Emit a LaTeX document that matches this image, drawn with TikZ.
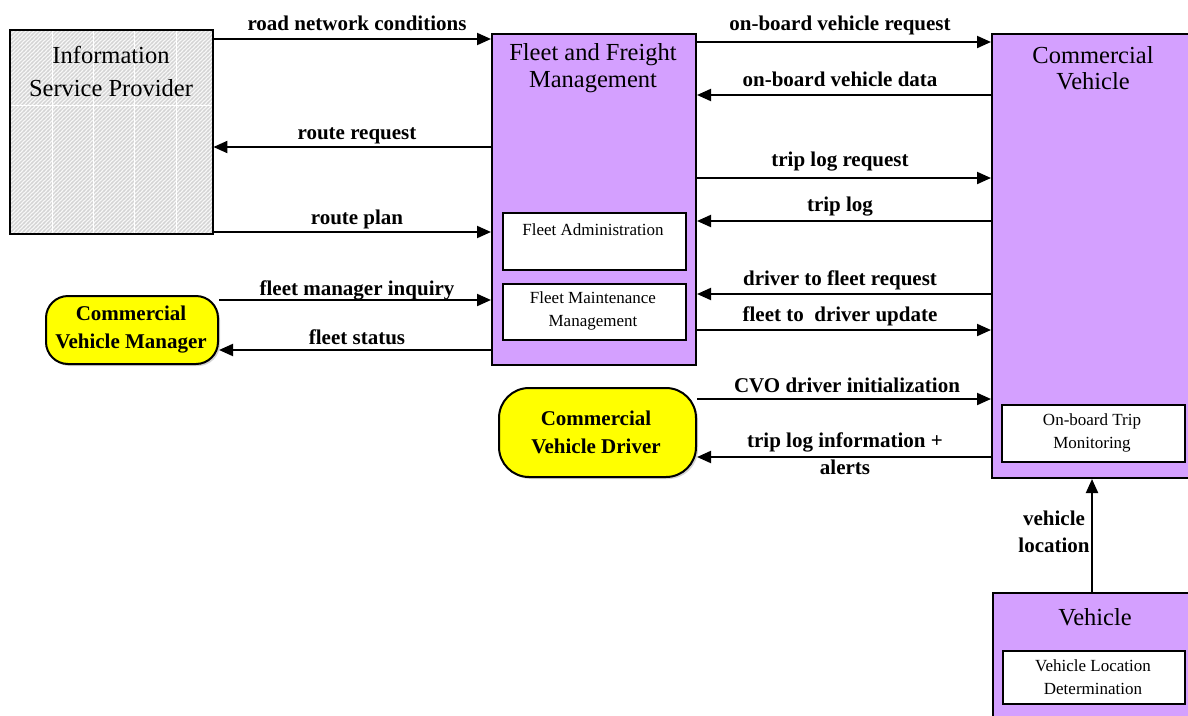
\documentclass[tikz,border=0pt]{standalone}
\usepackage{fontspec}
\setmainfont{Liberation Serif}
\usetikzlibrary{arrows.meta,patterns,shadows}
\definecolor{purp}{RGB}{212,160,255}
\definecolor{yel}{RGB}{255,255,0}
\definecolor{ispbg}{RGB}{248,248,248}
\definecolor{ispline}{RGB}{212,212,212}
\pgfdeclarepatternformonly{ispstripes}{\pgfqpoint{-1pt}{-1pt}}{\pgfqpoint{5pt}{5pt}}{\pgfqpoint{4pt}{4pt}}{%
  \pgfsetlinewidth{1.2pt}%
  \pgfpathmoveto{\pgfqpoint{-1pt}{-1pt}}%
  \pgfpathlineto{\pgfqpoint{5pt}{5pt}}%
  \pgfusepath{stroke}}
\tikzset{
  bigbox/.style={draw, line width=2pt, fill=purp, inner sep=0pt, anchor=north west},
  subbox/.style={draw, line width=1.5pt, fill=white, inner sep=0pt, anchor=north west},
  actor/.style={draw, line width=2pt, fill=yel, inner sep=0pt, anchor=north west,
    drop shadow={opacity=0.35, shadow xshift=2pt, shadow yshift=-2pt}},
  title/.style={font=\fontsize{24.5}{26.5}\selectfont, align=center, inner sep=0pt},
  subtext/.style={font=\fontsize{17}{23.5}\selectfont, align=center, inner sep=0pt},
  actortext/.style={font=\fontsize{21}{28}\selectfont\bfseries, align=center, inner sep=0pt},
  lab/.style={font=\fontsize{21}{27}\selectfont\bfseries, align=center, inner sep=0pt},
  arr/.style={line width=2pt, -{Triangle[length=14pt,width=12pt]}},
}
\begin{document}
\begin{tikzpicture}[x=1pt,y=-1pt]
\useasboundingbox (0,0) rectangle (1188,715);
% Information Service Provider
\node[fill=ispbg, inner sep=0pt, anchor=north west, minimum width=203, minimum height=204] (isp) at (10,30) {};
\fill[pattern=ispstripes, pattern color=ispline] ([xshift=1pt,yshift=-1pt]isp.north west) rectangle ([xshift=-1pt,yshift=1pt]isp.south east);
\foreach \xx in {52,93,134,176} \draw[white, line width=0.8pt] (\xx,31) -- (\xx,233);
\draw[white, line width=0.8pt] (11,105) -- (212,105);
\draw[line width=2pt] (isp.north west) rectangle (isp.south east);
\node[title, font=\fontsize{24.5}{33}\selectfont] (ispt) at (111,71) {Information\\Service Provider};
% Fleet and Freight Management
\node[bigbox, minimum width=204, minimum height=331] (ffm) at (491,33) {};
\node[title] (ffmt) at (593,68) {Fleet and Freight\\Management};
\node[subbox, minimum width=183, minimum height=57] (fa) at (502,212) {};
\node[subtext] (fat) at (593,230) {Fleet Administration};
\node[subbox, minimum width=183, minimum height=56] (fmm) at (502,283) {};
\node[subtext] (fmmt) at (593,311) {Fleet Maintenance\\Management};
% Commercial Vehicle
\node[bigbox, minimum width=200, minimum height=444] (cv) at (991,33) {};
\node[title] (cvt) at (1093,68) {Commercial\\Vehicle};
\node[subbox, minimum width=183, minimum height=57] (otm) at (1001,404) {};
\node[subtext] (otmt) at (1092,433) {On-board Trip\\Monitoring};
% Vehicle
\node[bigbox, minimum width=200, minimum height=140] (veh) at (992,592) {};
\node[title] (veht) at (1095,617) {Vehicle};
\node[subbox, minimum width=182, minimum height=53] (vld) at (1002,650) {};
\node[subtext] (vldt) at (1093,677) {Vehicle Location\\Determination};
% Actors
\node[actor, rounded corners=22pt, minimum width=172, minimum height=68] (cvm) at (45,295) {};
\node[actortext] (cvmt) at (131,330) {Commercial\\Vehicle Manager};
\node[actor, rounded corners=30pt, minimum width=197, minimum height=89] (cvd) at (498,387) {};
\node[actortext] (cvdt) at (596,432) {Commercial\\Vehicle Driver};
% Arrows left side
\draw[arr] (isp.east |- 0,39) -- (ffm.west |- 0,39);
\node[lab] (l1) at (357,23) {road network conditions};
\draw[arr] (ffm.west |- 0,147) -- (isp.east |- 0,147);
\node[lab] (l2) at (357,136) {route request};
\draw[arr] (isp.east |- 0,232) -- (ffm.west |- 0,232);
\node[lab] (l3) at (357,219) {route plan};
\draw[arr] (cvm.east |- 0,300) -- (ffm.west |- 0,300);
\node[lab] (l4) at (357,290) {fleet manager inquiry};
\draw[arr] (ffm.west |- 0,350) -- (cvm.east |- 0,350);
\node[lab] (l5) at (357,337) {fleet status};
% Arrows right side
\draw[arr] (ffm.east |- 0,42) -- (cv.west |- 0,42);
\node[lab] (r1) at (840,25) {on-board vehicle request};
\draw[arr] (cv.west |- 0,95) -- (ffm.east |- 0,95);
\node[lab] (r2) at (840,79) {on-board vehicle data};
\draw[arr] (ffm.east |- 0,178) -- (cv.west |- 0,178);
\node[lab] (r3) at (840,162) {trip log request};
\draw[arr] (cv.west |- 0,221) -- (ffm.east |- 0,221);
\node[lab] (r4) at (840,207) {trip log};
\draw[arr] (cv.west |- 0,294) -- (ffm.east |- 0,294);
\node[lab] (r5) at (840,280) {driver to fleet request};
\draw[arr] (ffm.east |- 0,330) -- (cv.west |- 0,330);
\node[lab] (r6) at (840,316) {fleet to\ \ driver update};
\draw[arr] (cvd.east |- 0,399) -- (cv.west |- 0,399);
\node[lab] (r7) at (847,385) {CVO driver initialization};
\draw[arr] (cv.west |- 0,457) -- (cvd.east |- 0,457);
\node[lab] (r8) at (845,454) {trip log information +\\alerts};
% vertical
\draw[arr] (veh.north -| 1092,0) -- (cv.south -| 1092,0);
\node[lab] (v1) at (1054,532) {vehicle\\location};
\end{tikzpicture}
\end{document}
